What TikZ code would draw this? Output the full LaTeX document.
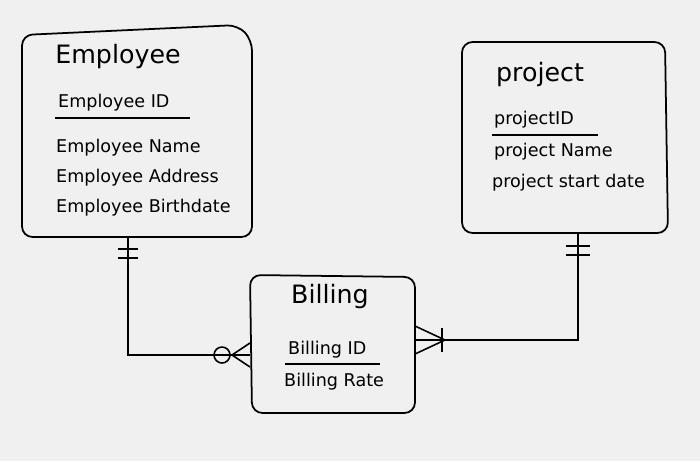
\documentclass[tikz,border=0pt]{standalone}
\usepackage{fontspec}
\setmainfont{DejaVu Sans}
\begin{document}
\begin{tikzpicture}[x=0.02cm,y=-0.02cm,
  ent/.style={draw,line width=1pt,rounded corners=6pt},
  lbl/.style={font=\normalsize,anchor=west},
  ttl/.style={font=\Large},
  ln/.style={line width=0.9pt}]
\fill[black!6] (0,0) rectangle (700,461);
\useasboundingbox (0,0) rectangle (700,461);
% Employee
\draw[ent] (22,237) -- (22,35) -- (238,25) -- (252,40) -- (252,237) -- cycle;
\node[ttl] (et) at (118,57) {Employee};
\node[lbl] (eid) at (52,103) {Employee ID};
\draw[ln] (55,118) -- (190,118);
\node[lbl] (en) at (50,148) {Employee Name};
\node[lbl] (ea) at (50,178) {Employee Address};
\node[lbl] (eb) at (50,208) {Employee Birthdate};
% Project
\draw[ent] (462,233) -- (462,42) -- (665,42) -- (668,233) -- cycle;
\node[ttl] (pt) at (540,75) {project};
\node[lbl] (pid) at (488,120) {projectID};
\draw[ln] (492,135) -- (598,135);
\node[lbl] (pn) at (488,152) {project Name};
\node[lbl] (ps) at (486,183) {project start date};
% Billing
\draw[ent] (250,275) -- (415,277) -- (415,413) -- (252,413) -- cycle;
\node[ttl] (bt) at (330,297) {Billing};
\node[lbl] (bid) at (282,350) {Billing ID};
\draw[ln] (285,364) -- (380,364);
\node[lbl] (br) at (278,382) {Billing Rate};
% connectors
\coordinate (e1) at (128,237);
\coordinate (e2) at (128,355);
\coordinate (b1) at (250,355);
\draw[ln] (e1) -- (e2) -- (b1);
\draw[ln] (118,249) -- (138,249) (118,258) -- (138,258);
\draw[ln] (222,355) circle (8);
\draw[ln] (232,355) -- (250,343) (232,355) -- (250,367);
\coordinate (p1) at (578,233);
\coordinate (p2) at (578,340);
\coordinate (b2) at (415,340);
\draw[ln] (p1) -- (p2) -- (b2);
\draw[ln] (566,246) -- (590,246) (566,255) -- (590,255);
\draw[ln] (445,340) -- (415,326) (445,340) -- (415,354);
\draw[ln] (442,328) -- (442,352);
\end{tikzpicture}
\end{document}
